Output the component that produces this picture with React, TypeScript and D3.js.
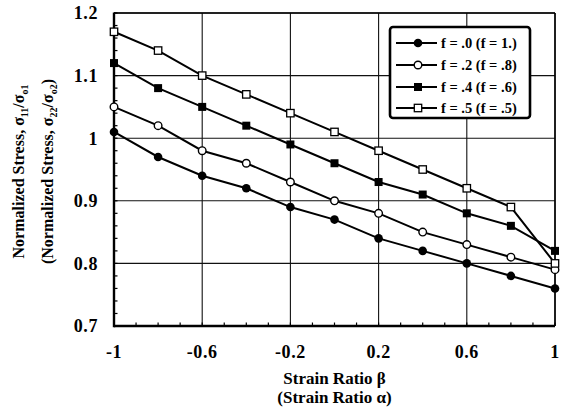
import React from "react";
import * as d3 from "d3";

const xValues = [-1, -0.8, -0.6, -0.4, -0.2, 0, 0.2, 0.4, 0.6, 0.8, 1];
const seriesNames = ["f = .0 (f = 1.)", "f = .2 (f = .8)", "f = .4 (f = .6)", "f = .5 (f = .5)"];
const seriesMarkers = ["circleFilled", "circleOpen", "squareFilled", "squareOpen"];
const s0 = [1.01, 0.97, 0.94, 0.92, 0.89, 0.87, 0.84, 0.82, 0.80, 0.78, 0.76];
const s2 = [1.05, 1.02, 0.98, 0.96, 0.93, 0.90, 0.88, 0.85, 0.83, 0.81, 0.79];
const s4 = [1.12, 1.08, 1.05, 1.02, 0.99, 0.96, 0.93, 0.91, 0.88, 0.86, 0.82];
const s5 = [1.17, 1.14, 1.10, 1.07, 1.04, 1.01, 0.98, 0.95, 0.92, 0.89, 0.80];
const seriesValues = [s0, s2, s4, s5];
const xTicks = [-1, -0.6, -0.2, 0.2, 0.6, 1];
const xTickLabels = ["-1", "-0.6", "-0.2", "0.2", "0.6", "1"];
const yTicks = [0.7, 0.8, 0.9, 1.0, 1.1, 1.2];
const yTickLabels = ["0.7", "0.8", "0.9", "1", "1.1", "1.2"];

const FONT = "Liberation Serif, DejaVu Serif, serif";
const textStyle = { fontFamily: FONT, fontWeight: 700 } as React.CSSProperties;

function Marker({ type, x, y }: { type: string; x: number; y: number }) {
  if (type === "circleFilled") return <circle cx={x} cy={y} r={4.3} fill="#000" />;
  if (type === "circleOpen")
    return <circle cx={x} cy={y} r={3.8} fill="#fff" stroke="#000" strokeWidth={1.4} />;
  if (type === "squareFilled")
    return <rect x={x - 4} y={y - 4} width={8} height={8} fill="#000" />;
  return <rect x={x - 3.7} y={y - 3.7} width={7.4} height={7.4} fill="#fff" stroke="#000" strokeWidth={1.3} />;
}

export default function App() {
  const left = 114, right = 555, top = 13, bottom = 326;
  const x = d3.scaleLinear().domain([-1, 1]).range([left, right]);
  const y = d3.scaleLinear().domain([0.7, 1.2]).range([bottom, top]);
  const line = d3
    .line<number>()
    .x((_, i) => x(xValues[i]))
    .y((d) => y(d));
  const yMinor = d3.range(0.7, 1.2001, 0.02);
  const xMinor = d3.range(-1, 1.0001, 0.1);

  const lgX = 390, lgY = 27, lgW = 140, lgH = 91;
  const rowY = [43, 65, 87, 108];

  return (
    <svg width={561} height={411} style={{ position: "absolute", left: 0, top: 0, background: "#fff" }}>
      <rect x={0} y={0} width={561} height={411} fill="#fff" />
      {yTicks.map((t) => (
        <line key={"gy" + t} x1={left} x2={right} y1={y(t)} y2={y(t)} stroke="#111" strokeWidth={1.1} />
      ))}
      {xTicks.map((t) => (
        <line key={"gx" + t} x1={x(t)} x2={x(t)} y1={top} y2={bottom} stroke="#111" strokeWidth={1.1} />
      ))}
      {yMinor.map((t, i) => (
        <line key={"my" + i} x1={left} x2={left + 3.5} y1={y(t)} y2={y(t)} stroke="#000" strokeWidth={1.2} />
      ))}
      {xMinor.map((t, i) => (
        <line key={"mx" + i} x1={x(t)} x2={x(t)} y1={bottom} y2={bottom - 3.5} stroke="#000" strokeWidth={1.2} />
      ))}
      <line x1={left} x2={right} y1={top} y2={top} stroke="#000" strokeWidth={1.5} />
      <line x1={right} x2={right} y1={top} y2={bottom} stroke="#000" strokeWidth={1.5} />
      <line x1={left} x2={left} y1={top - 0.5} y2={bottom + 1.2} stroke="#000" strokeWidth={2.4} />
      <line x1={left} x2={right} y1={bottom} y2={bottom} stroke="#000" strokeWidth={2.4} />
      {seriesValues.map((vals, si) => (
        <g key={"s" + si}>
          <path d={line(vals) || ""} fill="none" stroke="#000" strokeWidth={2} />
          {vals.map((v, i) => (
            <Marker key={i} type={seriesMarkers[si]} x={x(xValues[i])} y={y(v)} />
          ))}
        </g>
      ))}
      {yTicks.map((t, i) => (
        <text key={"ty" + t} x={98} y={y(t)} dy="0.35em" textAnchor="end" style={{ ...textStyle, fontSize: 18, letterSpacing: 0.6 }}>
          {yTickLabels[i]}
        </text>
      ))}
      {xTicks.map((t, i) => (
        <text key={"tx" + t} x={x(t)} y={352} dy="0.35em" textAnchor="middle" style={{ ...textStyle, fontSize: 18, letterSpacing: 0.6 }}>
          {xTickLabels[i]}
        </text>
      ))}
      <text x={(left + right) / 2} y={378} dy="0.35em" textAnchor="middle" style={{ ...textStyle, fontSize: 17 }}>
        Strain Ratio β
      </text>
      <text x={(left + right) / 2} y={397} dy="0.35em" textAnchor="middle" style={{ ...textStyle, fontSize: 17 }}>
        (Strain Ratio α)
      </text>
      <g transform={`translate(18, ${(top + bottom) / 2 + 2}) rotate(-90)`}>
        <text x={0} y={0} dy="0.35em" textAnchor="middle" style={{ ...textStyle, fontSize: 16 }}>
          Normalized Stress, σ<tspan style={{ fontSize: 10 }} dy="4">11</tspan><tspan dy="-4">/σ</tspan><tspan style={{ fontSize: 10 }} dy="4">o1</tspan>
        </text>
      </g>
      <g transform={`translate(47, ${(top + bottom) / 2 + 2}) rotate(-90)`}>
        <text x={0} y={0} dy="0.35em" textAnchor="middle" style={{ ...textStyle, fontSize: 16 }}>
          (Normalized Stress, σ<tspan style={{ fontSize: 10 }} dy="4">22</tspan><tspan dy="-4">/σ</tspan><tspan style={{ fontSize: 10 }} dy="4">o2</tspan><tspan dy="-4">)</tspan>
        </text>
      </g>
      <rect x={lgX} y={lgY} width={lgW} height={lgH} rx={3} fill="#fff" stroke="#000" strokeWidth={2.6} />
      {seriesNames.map((n, i) => (
        <g key={"lg" + i}>
          <line x1={396} x2={437} y1={rowY[i]} y2={rowY[i]} stroke="#000" strokeWidth={2} />
          <Marker type={seriesMarkers[i]} x={418} y={rowY[i]} />
          <text x={441} y={rowY[i]} dy="0.35em" style={{ ...textStyle, fontSize: 14.5 }}>
            {n}
          </text>
        </g>
      ))}
    </svg>
  );
}
